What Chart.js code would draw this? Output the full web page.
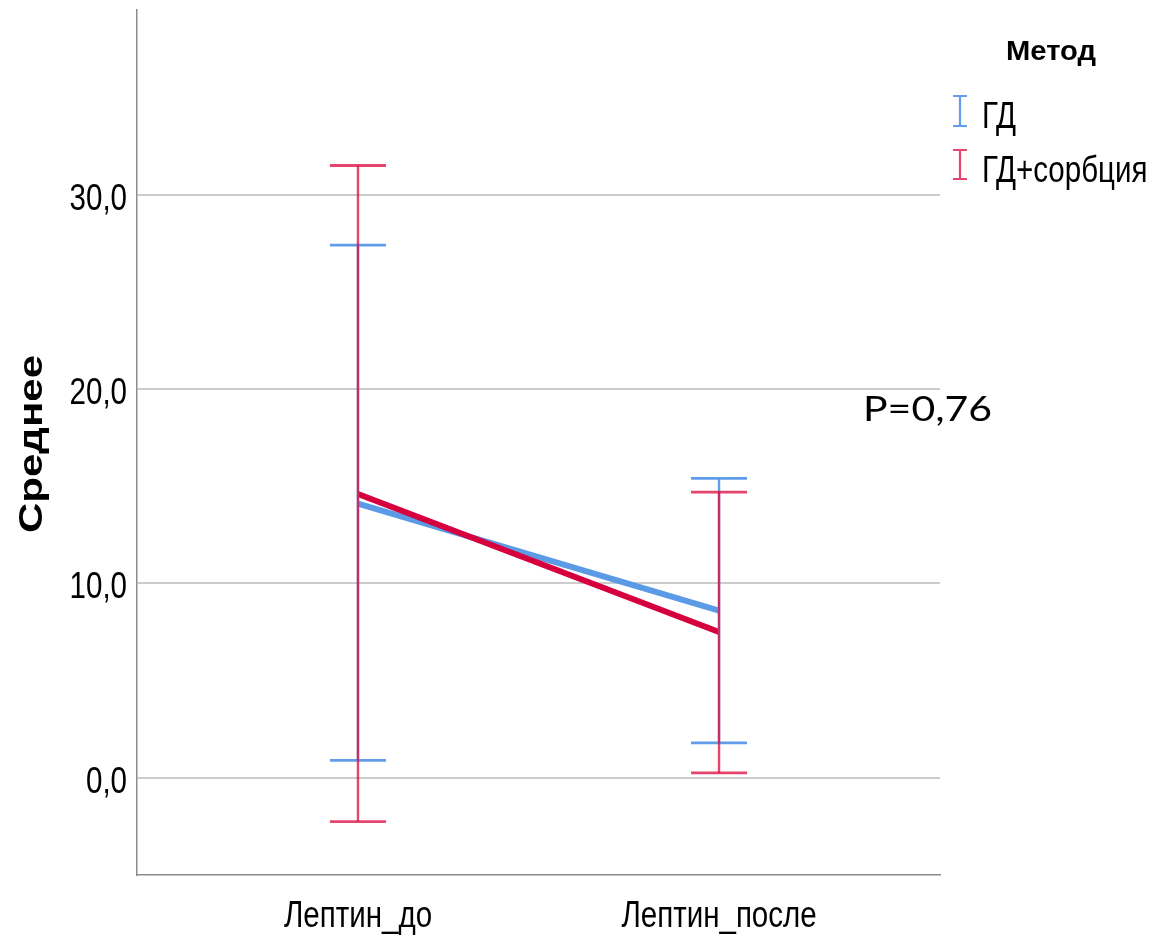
<!DOCTYPE html>
<html>
<head>
<meta charset="utf-8">
<script src="https://cdn.jsdelivr.net/npm/chart.js@4.4.1/dist/chart.umd.min.js"></script>
<style>
  html, body { margin: 0; padding: 0; background: #ffffff; }
  #wrap { width: 1158px; height: 937px; position: relative; }
</style>
</head>
<body>
<div id="wrap"><canvas id="c" width="1158" height="937"></canvas></div>
<script>
// ---- data ----
const categories = ['Лептин_до', 'Лептин_после'];
const categoryX = [0, 1];
const seriesNames = ['ГД', 'ГД+сорбция'];
const gdMean = [14.1, 8.6];
const gdLow = [0.9, 1.8];
const gdHigh = [27.4, 15.4];
const sorbMean = [14.6, 7.5];
const sorbLow = [-2.25, 0.25];
const sorbHigh = [31.5, 14.7];
const yTicks = [0, 10, 20, 30];
const yTitle = 'Среднее';
const legendTitle = 'Метод';
const annotationText = 'P=0,76';

// ---- styling ----
const BLUE = '#5B9BE6';
const RED = '#D6003E';
const BLUE_BAR = 'rgba(88,152,232,0.95)';
const RED_BAR = 'rgba(222,16,66,0.78)';
const SANS = '"Liberation Sans", Arial, sans-serif';
const NARROW_SX = 0.82;   // emulate the condensed face of the original

function toPoints(xs, ys) { return xs.map((x, i) => ({ x: x, y: ys[i] })); }
function fmt(v) { return v.toFixed(1).replace('.', ','); }

// draw text with a horizontal scale factor
function drawText(ctx, text, font, x, y, sx, align) {
  ctx.save();
  ctx.font = font;
  ctx.translate(x, y);
  ctx.scale(sx, 1);
  ctx.textAlign = align || 'left';
  ctx.textBaseline = 'alphabetic';
  ctx.fillStyle = '#000';
  ctx.fillText(text, 0, 0);
  ctx.restore();
}
// draw text scaled horizontally to a target width
function fitText(ctx, text, font, x, y, targetW, align) {
  ctx.save();
  ctx.font = font;
  const w = ctx.measureText(text).width;
  ctx.restore();
  drawText(ctx, text, font, x, y, targetW / w, align);
}

const errorBarPlugin = {
  id: 'errorBars',
  afterDatasetsDraw(chart) {
    const ctx = chart.ctx;
    const xs = chart.scales.x, ys = chart.scales.y;
    const sets = [
      { low: gdLow, high: gdHigh, color: BLUE_BAR },
      { low: sorbLow, high: sorbHigh, color: RED_BAR }
    ];
    const half = 28;
    sets.forEach(s => {
      categoryX.forEach((cx, i) => {
        const px = xs.getPixelForValue(cx);
        const pl = ys.getPixelForValue(s.low[i]);
        const ph = ys.getPixelForValue(s.high[i]);
        ctx.save();
        ctx.strokeStyle = s.color;
        ctx.lineCap = 'butt';
        ctx.lineWidth = 2.4;
        ctx.beginPath();
        ctx.moveTo(px, pl);
        ctx.lineTo(px, ph);
        ctx.stroke();
        ctx.lineWidth = 2.8;
        ctx.beginPath();
        ctx.moveTo(px - half, pl); ctx.lineTo(px + half, pl);
        ctx.moveTo(px - half, ph); ctx.lineTo(px + half, ph);
        ctx.stroke();
        ctx.restore();
      });
    });
  },
  afterDraw(chart) {
    const ctx = chart.ctx;
    const xs = chart.scales.x, ys = chart.scales.y;

    // y tick labels (from the scale's ticks)
    ys.ticks.forEach(t => {
      const py = ys.getPixelForValue(t.value);
      drawText(ctx, fmt(t.value), '36px ' + SANS, 127, py + 15, NARROW_SX, 'right');
    });
    // x tick labels (category names at the scale's tick positions)
    xs.ticks.forEach(t => {
      const px = xs.getPixelForValue(t.value);
      drawText(ctx, categories[categoryX.indexOf(t.value)], '36px ' + SANS, px, 927, NARROW_SX, 'center');
    });

    // y axis title (rotated)
    ctx.save();
    ctx.translate(42, 444);
    ctx.rotate(-Math.PI / 2);
    fitText(ctx, yTitle, 'bold 34px ' + SANS, 0, 0, 178, 'center');
    ctx.restore();

    // legend
    fitText(ctx, legendTitle, 'bold 28px ' + SANS, 1006, 60, 90, 'left');
    const icons = [
      { color: BLUE_BAR, top: 96, bottom: 126, label: seriesNames[0], base: 128 },
      { color: RED_BAR, top: 150, bottom: 179, label: seriesNames[1], base: 182 }
    ];
    icons.forEach(ic => {
      ctx.save();
      ctx.strokeStyle = ic.color;
      ctx.lineWidth = 2.2;
      ctx.beginPath();
      ctx.moveTo(960, ic.top); ctx.lineTo(960, ic.bottom);
      ctx.moveTo(953, ic.top); ctx.lineTo(967, ic.top);
      ctx.moveTo(953, ic.bottom); ctx.lineTo(967, ic.bottom);
      ctx.stroke();
      ctx.restore();
      drawText(ctx, ic.label, '36px ' + SANS, 982, ic.base, NARROW_SX, 'left');
    });

    // annotation
    fitText(ctx, annotationText, '34px Lato, "Open Sans", sans-serif', 863, 421, 129, 'left');
  }
};

const chart = new Chart(document.getElementById('c'), {
  type: 'line',
  data: {
    datasets: [
      {
        label: seriesNames[1],
        data: toPoints(categoryX, sorbMean),
        borderColor: RED,
        borderWidth: 6,
        pointRadius: 0,
        tension: 0,
        order: 0
      },
      {
        label: seriesNames[0],
        data: toPoints(categoryX, gdMean),
        borderColor: BLUE,
        borderWidth: 6,
        pointRadius: 0,
        tension: 0,
        order: 1
      }
    ]
  },
  options: {
    responsive: false,
    animation: false,
    devicePixelRatio: 1,
    layout: { padding: { left: 0, top: 10, right: 218, bottom: 0 } },
    plugins: { legend: { display: false }, tooltip: { enabled: false } },
    scales: {
      x: {
        type: 'linear',
        min: -0.612,
        max: 1.612,
        grid: { display: false, drawTicks: false },
        border: { display: true, color: '#8c8c8c', width: 1.5 },
        afterBuildTicks(scale) { scale.ticks = categoryX.map(v => ({ value: v })); },
        afterFit(scale) {
          scale.height = 62;
          scale.paddingLeft = 0; scale.paddingRight = 0;
          scale.paddingTop = 0; scale.paddingBottom = 0;
        },
        ticks: {
          display: false,
          autoSkip: false,
          maxRotation: 0,
          callback: (v) => categories[categoryX.indexOf(v)]
        }
      },
      y: {
        type: 'linear',
        min: -5,
        max: 39.5,
        grid: { display: true, color: '#cccccc', lineWidth: 2, drawTicks: false },
        border: { display: true, color: '#8c8c8c', width: 1.5 },
        afterBuildTicks(scale) { scale.ticks = yTicks.map(v => ({ value: v })); },
        afterFit(scale) {
          scale.width = 137;
          scale.paddingLeft = 0; scale.paddingRight = 0;
          scale.paddingTop = 0; scale.paddingBottom = 0;
        },
        ticks: {
          display: false,
          callback: (v) => fmt(v)
        }
      }
    }
  },
  plugins: [errorBarPlugin]
});
</script>
</body>
</html>
